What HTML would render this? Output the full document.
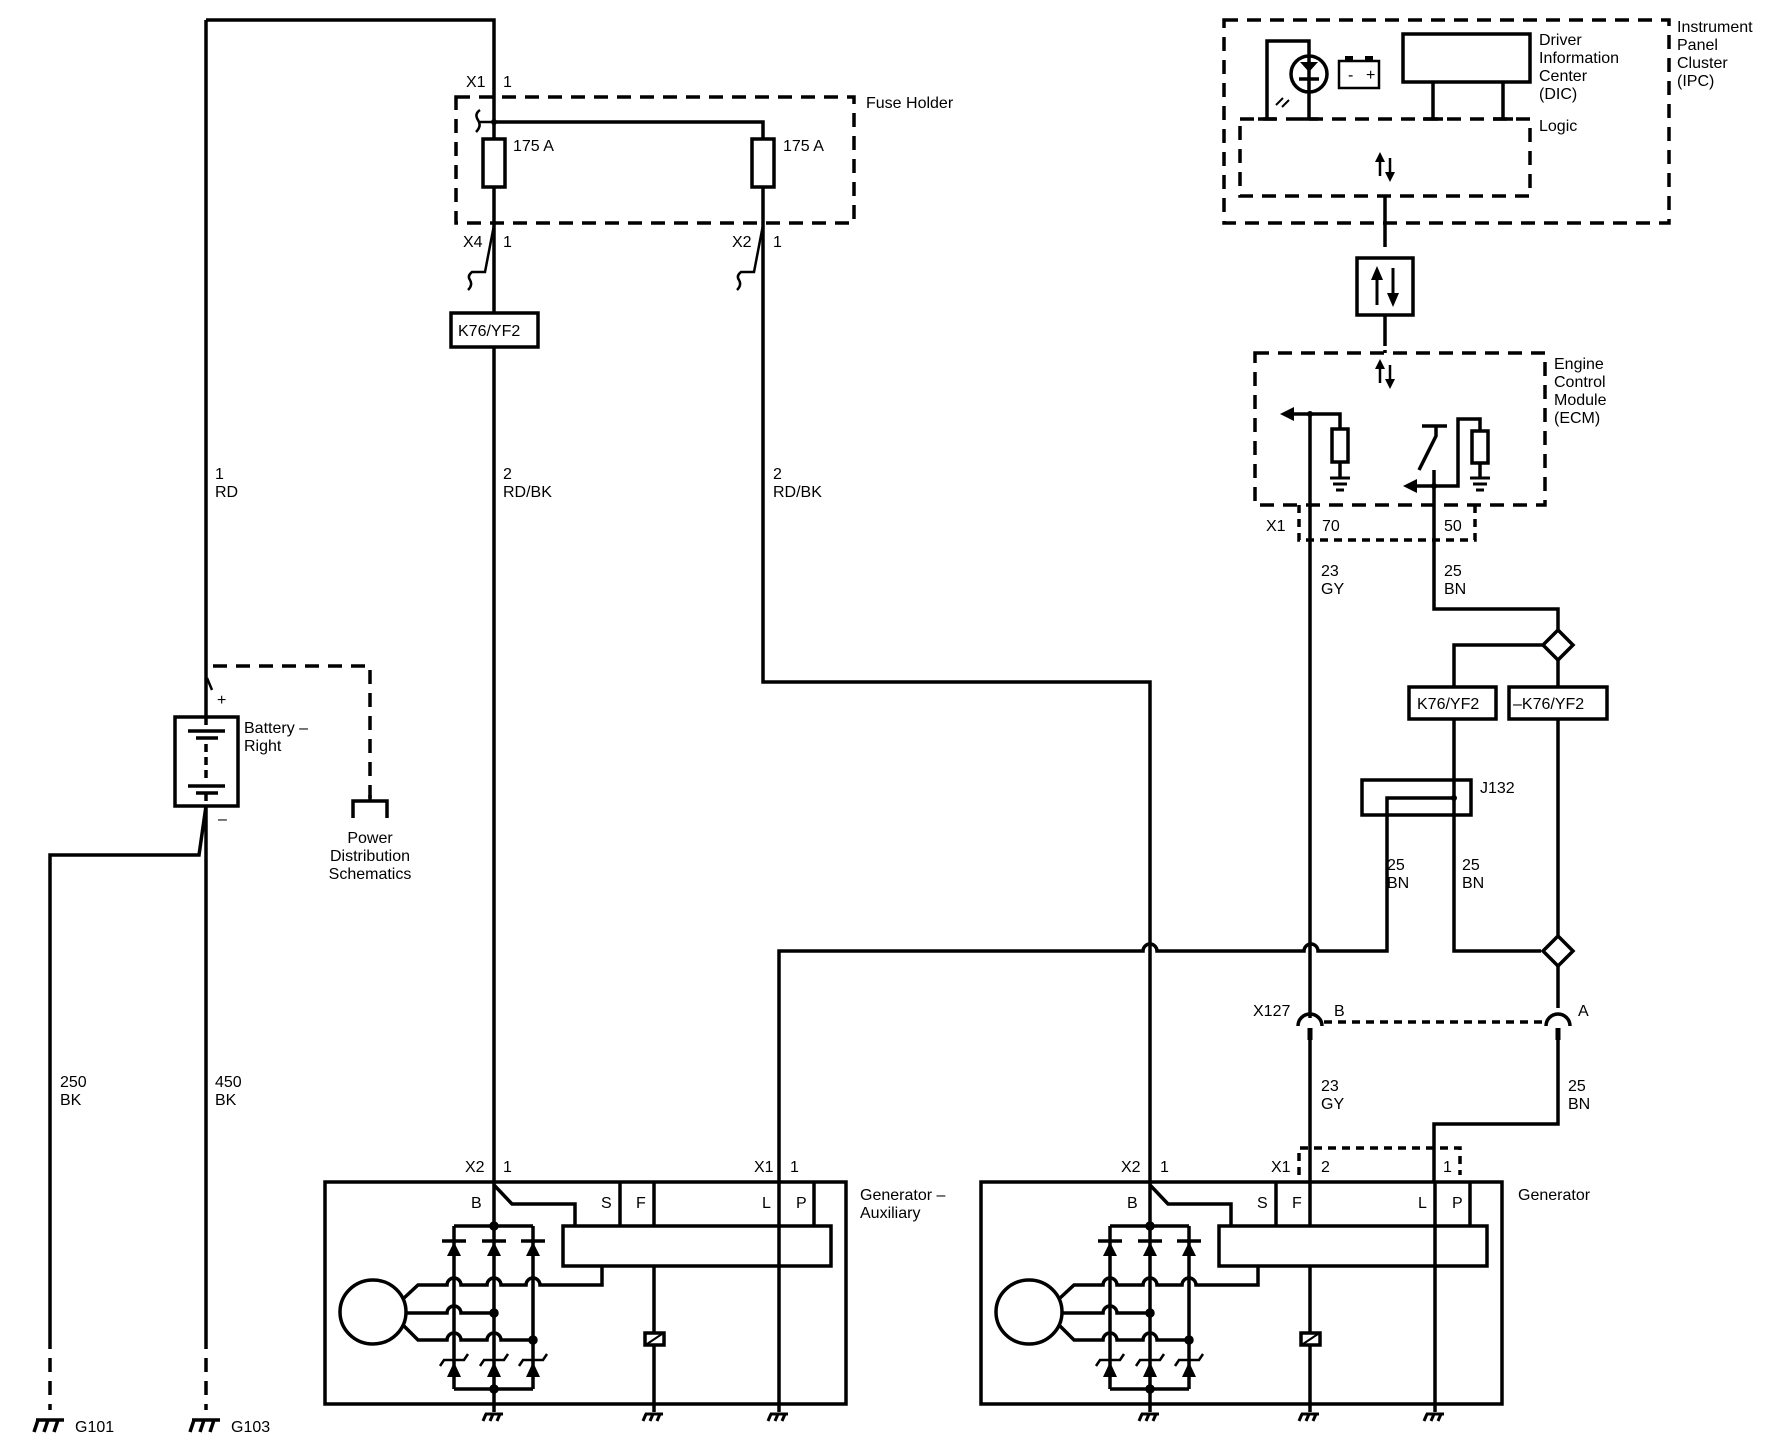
<!DOCTYPE html>
<html><head><meta charset="utf-8"><style>
html,body{margin:0;padding:0;background:#fff}
svg{display:block}
text{font-family:"Liberation Sans",Arial,sans-serif;font-size:16px;fill:#000}
</style></head><body>
<svg width="1782" height="1454" viewBox="0 0 1782 1454" xmlns="http://www.w3.org/2000/svg">
<defs>
<g id="gnd"><path d="M-14,0 H14 M-12,0 l-4,12 M-2,0 l-4,12 M8,0 l-4,12" stroke="#000" stroke-width="3.5" fill="none"/></g>
<g id="sgnd"><path d="M-9,0 H9 M-8,0 l-3,7 M-1,0 l-3,7 M6,0 l-3,7" stroke="#000" stroke-width="3" fill="none"/></g>
<g id="egnd"><path d="M-10,0 H10 M-7,6 H7 M-4,12 H4" stroke="#000" stroke-width="3" fill="none"/></g>
<g id="gen" fill="none" stroke="#000" stroke-width="3.5">
  <rect x="325" y="1182" width="521" height="222"/>
  <path d="M494,1182 V1412 M494,1185 L512,1204 H575 V1226"/>
  <rect x="563" y="1226" width="268" height="40"/>
  <path d="M620,1182 V1226 M654,1182 V1226 M814,1182 V1226 M779,1182 V1412"/>
  <path d="M654,1266 V1412"/>
  <rect x="645" y="1333" width="19" height="12" fill="#fff"/>
  <path d="M647,1344 L662,1334" stroke-width="2"/>
  <ellipse cx="373" cy="1312" rx="33" ry="32"/>
  <path d="M454,1226 H533 M454,1226 V1389 M533,1226 V1389 M454,1389 H533"/>
  <path d="M442,1241 H466 M482,1241 H506 M521,1241 H545" />
  <path d="M404,1298 L418,1285 H447 a7,7 0 0 1 14,0 H487 a7,7 0 0 1 14,0 H526 a7,7 0 0 1 14,0 H602 V1266"/>
  <path d="M406,1313 H447 a7,7 0 0 1 14,0 H494"/>
  <path d="M404,1326 L418,1340 H447 a7,7 0 0 1 14,0 H487 a7,7 0 0 1 14,0 H533"/>
  <path d="M440,1366 l4,-6 H464 l4,-6 M480,1366 l4,-6 H504 l4,-6 M519,1366 l4,-6 H543 l4,-6" stroke-width="2.5"/>
  <circle cx="494" cy="1226" r="3" fill="#000"/>
  <circle cx="494" cy="1313" r="3" fill="#000"/>
  <circle cx="533" cy="1340" r="3" fill="#000"/>
  <circle cx="494" cy="1389" r="3" fill="#000"/>
</g>
<g id="genf" fill="#000" stroke="none">
  <path d="M447,1256 L461,1256 L454,1242 Z M487,1256 L501,1256 L494,1242 Z M526,1256 L540,1256 L533,1242 Z"/>
  <path d="M447,1377 L461,1377 L454,1362 Z M487,1377 L501,1377 L494,1362 Z M526,1377 L540,1377 L533,1362 Z"/>
</g>
</defs>

<g fill="none" stroke="#000" stroke-width="3.5">
<path d="M206,20 H494 V1182"/>
<path d="M206,20 V806"/>
<path d="M456,97 H854 V223 H456 Z" stroke-dasharray="14,9"/>
<path d="M494,122 H763 V682 H1150 V1182"/>
<rect x="483" y="139" width="22" height="48" fill="#fff"/>
<rect x="752" y="139" width="22" height="48" fill="#fff"/>
<path d="M480,110 q-6,4 -2,10 q4,6 -2,12 M478,122 H494" stroke-width="2.5"/>
<path d="M494,225 L485,272 H472 q-5,4 -2,8 q3,5 -2,10" stroke-width="2.5"/>
<path d="M763,225 L754,272 H741 q-5,4 -2,8 q3,5 -2,10" stroke-width="2.5"/>
<rect x="451" y="313" width="87" height="34" fill="#fff"/>
<rect x="175" y="717" width="63" height="89" fill="#fff"/>
<path d="M188,731 H225 M196,738 H218 M188,786 H225 M196,793 H218" />
<path d="M206,717 V731 M206,744 V782 M206,793 V806" stroke-dasharray="8,5"/>
<path d="M213,666 H370 V798" stroke-dasharray="14,9"/>
<path d="M353,818 V801 H387 V818 M370,801 V795"/>
<path d="M206,806 L199,855 H50 V1335 M206,806 V1335"/>
<path d="M50,1335 V1410 M206,1335 V1410" stroke-dasharray="14,9"/>
<path d="M212,690 l-5,-12" stroke-width="2.5"/>
<path d="M779,1182 V951 H1143 a7,7 0 0 1 14,0 H1304 a7,7 0 0 1 14,0 H1387 V798 H1454"/>
<rect x="1362" y="780" width="109" height="35"/>
<path d="M1454,719 V951 H1541"/>
<path d="M1224,20 H1669 V223 H1224 Z" stroke-dasharray="14,9"/>
<path d="M1240,119 H1530 V196 H1240 Z" stroke-dasharray="14,9"/>
<rect x="1403" y="34" width="127" height="48"/>
<path d="M1433,82 V119 M1503,82 V119 M1423,119 H1443 M1493,119 H1513"/>
<path d="M1267,119 V41 H1309 V119 M1258,119 H1276 M1300,119 H1318"/>
<circle cx="1309" cy="74" r="18" fill="#fff"/>
<path d="M1309,56 V92 M1299,79 H1319"/>
<path d="M1283,98 l-7,7 M1289,100 l-7,7" stroke-width="2"/>
<rect x="1339" y="61" width="40" height="27" stroke-width="2.5"/>
<path d="M1345,58 h8 M1365,58 h8" stroke-width="4"/>
<path d="M1385,196 V247 M1385,315 V342"/>
<path d="M1385,342 V353" stroke-dasharray="4,4"/>
<rect x="1357" y="258" width="56" height="57"/>
<path d="M1255,353 H1545 V505 H1255 Z" stroke-dasharray="14,9"/>
<path d="M1299,505 V540 H1475 V505" stroke-dasharray="8,6"/>
<path d="M1310,414 V1018 M1292,414 H1340 V429"/>
<rect x="1332" y="429" width="16" height="33" fill="#fff"/>
<path d="M1340,462 V478"/>
<path d="M1434,470 V609 H1558 V630 M1415,486 H1458 V419 H1480 V431"/>
<rect x="1472" y="431" width="16" height="32" fill="#fff"/>
<path d="M1480,463 V478"/>
<path d="M1422,426 H1447 M1436,426 V436 L1419,470"/>
<path d="M1558,630 L1573,645 L1558,660 L1543,645 Z" fill="#fff"/>
<path d="M1543,645 H1454 V687 M1558,660 V687 M1558,719 V936"/>
<rect x="1409" y="687" width="87" height="32" fill="#fff"/>
<rect x="1509" y="687" width="98" height="32" fill="#fff"/>
<path d="M1558,936 L1573,951 L1558,966 L1543,951 Z" fill="#fff"/>
<path d="M1558,966 V1008"/>
<path d="M1298,1026 a12,12 0 0 1 24,0 M1546,1026 a12,12 0 0 1 24,0"/>
<path d="M1324,1022 H1544" stroke-dasharray="8,6"/>
<path d="M1310,1028 V1040 M1558,1028 V1040" stroke-width="5"/>
<path d="M1310,1040 V1182 M1558,1040 V1124 H1434 V1182"/>
<path d="M1299,1175 V1148 H1460 V1175" stroke-dasharray="8,6"/>
</g>
<use href="#gen"/><use href="#genf"/>
<use href="#gen" transform="translate(656,0)"/><use href="#genf" transform="translate(656,0)"/>
<g>
<circle cx="494" cy="122" r="3" fill="#000"/>
<circle cx="1310" cy="414" r="3" fill="#000"/>
<circle cx="1434" cy="486" r="3" fill="#000"/>
<circle cx="1454" cy="798" r="3" fill="#000"/>
<path d="M1280,414 L1294,407 L1294,421 Z M1403,486 L1417,479 L1417,493 Z" fill="#000"/>
<path d="M1380,176 V158 M1390,158 V176" stroke="#000" stroke-width="2.5"/>
<path d="M1375,162 L1380,152 L1385,162 Z M1385,172 L1390,182 L1395,172 Z" fill="#000"/>
<path d="M1380,383 V365 M1390,365 V383" stroke="#000" stroke-width="2.5"/>
<path d="M1375,369 L1380,359 L1385,369 Z M1385,379 L1390,389 L1395,379 Z" fill="#000"/>
<path d="M1377,305 V275 M1393,268 V298" stroke="#000" stroke-width="3"/>
<path d="M1371,280 L1377,266 L1383,280 Z M1387,293 L1393,307 L1399,293 Z" fill="#000"/>
<path d="M1300,62 L1318,62 L1309,72 Z" fill="#000"/>
<use href="#egnd" x="1340" y="478"/><use href="#egnd" x="1480" y="478"/>
<use href="#gnd" x="50" y="1420"/><use href="#gnd" x="206" y="1420"/>
<use href="#sgnd" x="494" y="1414"/><use href="#sgnd" x="654" y="1414"/><use href="#sgnd" x="779" y="1414"/>
<use href="#sgnd" x="1150" y="1414"/><use href="#sgnd" x="1310" y="1414"/><use href="#sgnd" x="1435" y="1414"/>
</g>

<g>
<text x="466" y="87">X1</text><text x="503" y="87">1</text>
<text x="866" y="108">Fuse Holder</text>
<text x="513" y="151">175 A</text><text x="783" y="151">175 A</text>
<text x="463" y="247">X4</text><text x="503" y="247">1</text>
<text x="732" y="247">X2</text><text x="773" y="247">1</text>
<text x="458" y="336">K76/YF2</text>
<text x="215" y="479">1</text><text x="215" y="497">RD</text>
<text x="503" y="479">2</text><text x="503" y="497">RD/BK</text>
<text x="773" y="479">2</text><text x="773" y="497">RD/BK</text>
<text x="217" y="705" font-size="12">+</text>
<text x="244" y="733">Battery –</text><text x="244" y="751">Right</text>
<text x="218" y="824" font-size="12">–</text>
<text x="370" y="843" text-anchor="middle">Power</text>
<text x="370" y="861" text-anchor="middle">Distribution</text>
<text x="370" y="879" text-anchor="middle">Schematics</text>
<text x="60" y="1087">250</text><text x="60" y="1105">BK</text>
<text x="215" y="1087">450</text><text x="215" y="1105">BK</text>
<text x="75" y="1432">G101</text><text x="231" y="1432">G103</text>
<text x="465" y="1172">X2</text><text x="503" y="1172">1</text>
<text x="754" y="1172">X1</text><text x="790" y="1172">1</text>
<text x="1121" y="1172">X2</text><text x="1160" y="1172">1</text>
<text x="1271" y="1172">X1</text><text x="1321" y="1172">2</text><text x="1443" y="1172">1</text>
<text x="471" y="1208">B</text><text x="601" y="1208">S</text><text x="636" y="1208">F</text><text x="762" y="1208">L</text><text x="796" y="1208">P</text>
<text x="1127" y="1208">B</text><text x="1257" y="1208">S</text><text x="1292" y="1208">F</text><text x="1418" y="1208">L</text><text x="1452" y="1208">P</text>
<text x="860" y="1200">Generator –</text><text x="860" y="1218">Auxiliary</text>
<text x="1518" y="1200">Generator</text>
<text x="1253" y="1016">X127</text><text x="1334" y="1016">B</text><text x="1578" y="1016">A</text>
<text x="1321" y="1091">23</text><text x="1321" y="1109">GY</text>
<text x="1568" y="1091">25</text><text x="1568" y="1109">BN</text>
<text x="1387" y="870">25</text><text x="1387" y="888">BN</text>
<text x="1462" y="870">25</text><text x="1462" y="888">BN</text>
<text x="1480" y="793">J132</text>
<text x="1417" y="709">K76/YF2</text><text x="1513" y="709">–K76/YF2</text>
<text x="1321" y="576">23</text><text x="1321" y="594">GY</text>
<text x="1444" y="576">25</text><text x="1444" y="594">BN</text>
<text x="1266" y="531">X1</text><text x="1322" y="531">70</text><text x="1444" y="531">50</text>
<text x="1554" y="369">Engine</text><text x="1554" y="387">Control</text><text x="1554" y="405">Module</text><text x="1554" y="423">(ECM)</text>
<text x="1677" y="32">Instrument</text><text x="1677" y="50">Panel</text><text x="1677" y="68">Cluster</text><text x="1677" y="86">(IPC)</text>
<text x="1539" y="45">Driver</text><text x="1539" y="63">Information</text><text x="1539" y="81">Center</text><text x="1539" y="99">(DIC)</text>
<text x="1539" y="131">Logic</text>
<text x="1348" y="80" font-size="11">-</text><text x="1366" y="80" font-size="11">+</text>
</g>
</svg>
</body></html>
